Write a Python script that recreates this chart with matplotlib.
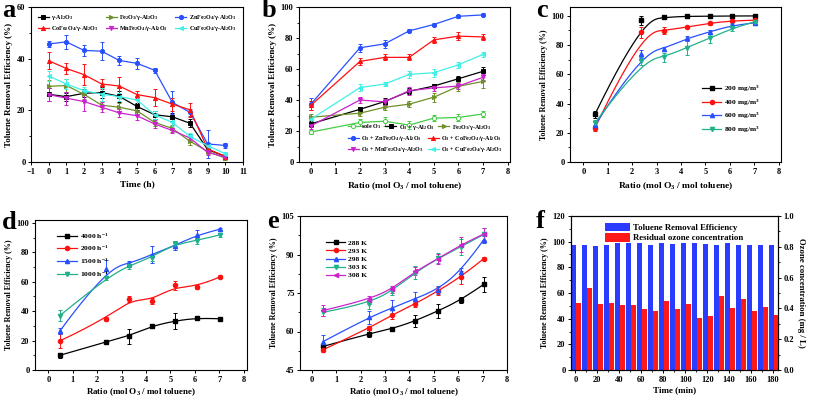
import matplotlib.pyplot as plt
import numpy as np
from matplotlib.ticker import MultipleLocator

# panel a: stability over time
time_h = [0, 1, 2, 3, 4, 5, 6, 7, 8, 9, 10]
a_gamma = [26.2, 25.3, 26.6, 26.9, 25.4, 21.5, 18.3, 17.5, 15.0, 4.8, 2.2]
a_fe2o3 = [29.3, 29.6, 26.2, 22.0, 21.2, 19.8, 15.3, 13.0, 8.0, 4.1, 1.5]
a_zn = [45.7, 46.5, 43.2, 42.9, 39.3, 38.2, 35.5, 23.1, 19.2, 7.0, 6.4]
a_co = [39.2, 36.2, 33.8, 30.2, 29.4, 26.1, 24.9, 22.4, 20.2, 5.1, 2.1]
a_mn = [26.1, 24.7, 23.4, 21.2, 19.0, 17.9, 14.7, 12.2, 9.3, 3.7, 1.9]
a_cu = [33.3, 30.2, 27.6, 26.3, 25.3, 24.0, 18.3, 15.3, 9.9, 6.3, 3.2]
a_gamma_err = [2.5, 1.5, 1.5, 2.0, 2.0, 1.5, 1.5, 1.5, 1.5, 1.0, 0.8]
a_fe2o3_err = [2.5, 2.5, 2.0, 1.5, 1.5, 1.5, 1.5, 1.5, 1.5, 1.0, 0.8]
a_zn_err = [1.2, 2.7, 2.0, 3.5, 1.8, 2.2, 1.0, 4.5, 1.5, 5.5, 1.0]
a_co_err = [3.2, 2.2, 4.0, 2.0, 3.5, 1.2, 3.3, 2.5, 2.8, 1.5, 0.8]
a_mn_err = [2.5, 2.5, 3.5, 2.0, 1.5, 1.5, 1.5, 1.0, 1.5, 1.0, 0.8]
a_cu_err = [2.0, 2.0, 1.5, 2.5, 1.5, 1.5, 1.5, 1.5, 1.5, 1.0, 0.8]

# panel b: catalysts vs ozone ratio
ratio_b = [0, 2, 3, 4, 5, 6, 7]
b_sole = [19.3, 25.5, 26.3, 23.8, 28.3, 28.7, 31.0]
b_gamma = [24.6, 34.0, 39.0, 45.6, 49.0, 53.7, 58.5]
b_fe2o3 = [28.9, 31.5, 35.3, 37.3, 41.8, 48.8, 52.0]
b_zn = [37.3, 73.7, 76.2, 84.6, 88.7, 94.0, 94.9]
b_co = [36.5, 64.9, 67.5, 67.5, 78.8, 81.2, 80.7]
b_mn = [23.3, 40.0, 38.8, 46.0, 47.8, 49.0, 54.6]
b_cu = [27.6, 48.0, 50.3, 56.5, 57.6, 62.7, 69.4]
b_sole_err = [1.5, 2.5, 3.0, 2.5, 2.0, 2.5, 2.0]
b_gamma_err = [2.0, 1.5, 2.0, 2.0, 1.5, 1.5, 2.5]
b_fe2o3_err = [2.0, 2.0, 2.0, 2.0, 3.0, 3.0, 4.0]
b_zn_err = [4.0, 2.5, 2.5, 1.0, 1.0, 1.0, 1.0]
b_co_err = [3.0, 2.0, 2.0, 2.0, 2.0, 2.5, 2.0]
b_mn_err = [2.0, 2.0, 2.0, 2.5, 2.0, 2.0, 2.0]
b_cu_err = [2.0, 2.5, 1.5, 2.0, 2.5, 2.0, 1.5]

# panels c, d, e share the ozone ratios
ratio = [0.47, 2.35, 3.29, 4.23, 5.17, 6.11, 7.05]

c_labels = ['200 mg/m$^3$', '400 mg/m$^3$', '600 mg/m$^3$', '800 mg/m$^3$']
c_vals = [[32.5, 96.8, 98.9, 99.7, 99.6, 99.9, 99.9],
          [23.2, 88.6, 89.8, 92.3, 95.0, 96.6, 97.0],
          [25.0, 73.9, 77.3, 84.5, 88.9, 93.6, 95.2],
          [26.6, 69.1, 71.6, 78.2, 84.5, 91.6, 96.0]]
c_errs = [[2.5, 3.0, 0.8, 0.5, 0.5, 0.5, 0.5],
          [2.0, 4.0, 2.5, 1.0, 1.0, 1.0, 1.0],
          [3.0, 3.0, 1.5, 1.5, 1.5, 1.0, 1.0],
          [2.0, 3.0, 3.0, 5.0, 3.0, 2.0, 1.0]]

d_labels = ['4000 h$^{-1}$', '2000 h$^{-1}$', '1500 h$^{-1}$', '1000 h$^{-1}$']
d_vals = [[10.0, 19.1, 23.0, 29.8, 33.4, 35.5, 34.8],
          [19.8, 34.5, 48.5, 47.0, 57.5, 56.5, 63.5],
          [26.5, 69.0, 72.0, 78.5, 84.5, 92.0, 95.8],
          [37.0, 62.5, 71.0, 76.5, 86.0, 88.0, 92.0]]
d_errs = [[1.5, 1.0, 5.0, 1.0, 5.5, 1.0, 1.0],
          [5.0, 1.5, 2.0, 2.0, 3.0, 1.5, 1.0],
          [2.0, 6.0, 2.0, 5.5, 3.0, 3.0, 1.0],
          [3.5, 1.5, 2.5, 2.5, 2.0, 2.0, 1.5]]

e_labels = ['288 K', '293 K', '298 K', '303 K', '308 K']
e_vals = [[54.2, 59.2, 61.0, 64.1, 68.0, 72.2, 78.4],
          [52.9, 61.3, 66.5, 70.7, 75.8, 81.2, 88.4],
          [56.1, 65.6, 69.1, 72.8, 76.3, 83.3, 95.8],
          [67.5, 70.9, 75.8, 82.9, 88.5, 93.0, 97.8],
          [68.2, 72.4, 76.4, 83.5, 88.2, 93.8, 98.0]]
e_errs = [[1.0, 1.5, 0.7, 2.5, 2.7, 1.2, 3.0],
          [0.8, 0.7, 1.8, 1.0, 1.5, 2.5, 0.7],
          [2.5, 2.5, 3.0, 2.5, 1.5, 1.5, 1.5],
          [1.5, 2.0, 1.5, 2.5, 2.0, 3.0, 2.5],
          [2.0, 1.5, 1.5, 1.5, 2.0, 3.0, 2.5]]

# panel f: long run
time_min = [0, 10, 20, 30, 40, 50, 60, 70, 80, 90, 100, 110, 120, 130, 140,
            150, 160, 170, 180]
f_removal = [97.7, 97.5, 97.0, 97.5, 99.0, 98.7, 98.9, 97.6, 99.3, 98.5,
             99.1, 99.3, 98.3, 97.6, 98.8, 97.4, 97.4, 97.2, 97.2]
f_ozone = [0.436, 0.531, 0.430, 0.436, 0.421, 0.419, 0.395, 0.380, 0.447,
           0.397, 0.428, 0.335, 0.348, 0.479, 0.402, 0.464, 0.384, 0.410,
           0.354]

BLACK = '#000000'
RED = '#ff1010'
BLUE = '#2850ff'
OLIVE = '#6f8f2a'
MAGENTA = '#cc22cc'
CYAN = '#40f0e8'
GREEN = '#44cc44'
TEAL = '#20b08a'

plt.rcParams.update({
    'font.family': ['Liberation Serif', 'DejaVu Serif'],
    'font.weight': 'bold',
    'font.size': 6.5,
    'mathtext.fontset': 'custom',
    'mathtext.rm': 'Liberation Serif:bold',
    'mathtext.it': 'Liberation Serif:bold',
    'mathtext.bf': 'Liberation Serif:bold',
    'axes.linewidth': 0.8,
    'axes.labelweight': 'bold',
    'axes.labelpad': 2,
    'xtick.major.size': 2.5,
    'ytick.major.size': 2.5,
    'xtick.minor.size': 1.3,
    'ytick.minor.size': 1.3,
    'xtick.major.width': 0.7,
    'ytick.major.width': 0.7,
    'xtick.minor.width': 0.6,
    'ytick.minor.width': 0.6,
    'xtick.labelsize': 6.0,
    'ytick.labelsize': 6.0,
    'xtick.major.pad': 2.0,
    'ytick.major.pad': 1.5,
})

YLABEL = 'Toluene Removal Efficiency (%)'
RLABEL = 'Ratio (mol O$_3$ / mol toluene)'


def bspline(x, y, k=3, n=200):
    """Clamped cubic B-spline with the data as control points (Origin
    style 'B-Spline' connection)."""
    pts = np.column_stack([x, y])
    m = len(pts)
    knots = np.concatenate([np.zeros(k), np.linspace(0, 1, m - k + 1),
                            np.ones(k)])
    t = np.linspace(0, 1, n)
    basis = np.zeros((n, len(knots) - 1))
    for i in range(len(knots) - 1):
        basis[:, i] = (knots[i] <= t) & (t < knots[i + 1])
    basis[-1, m - 1] = 1.0
    for d in range(1, k + 1):
        new = np.zeros((n, len(knots) - 1 - d))
        for i in range(len(knots) - 1 - d):
            left = knots[i + d] - knots[i]
            right = knots[i + d + 1] - knots[i + 1]
            if left > 0:
                new[:, i] += (t - knots[i]) / left * basis[:, i]
            if right > 0:
                new[:, i] += (knots[i + d + 1] - t) / right * basis[:, i + 1]
        basis = new
    curve = basis @ pts
    return curve[:, 0], curve[:, 1]


def series(ax, x, y, err, color, marker, smooth=False, mfc=None):
    ax.errorbar(x, y, yerr=err, fmt='none', ecolor=color, elinewidth=0.7,
                capsize=1.4, capthick=0.7, zorder=2)
    if smooth:
        sx, sy = bspline(x, y)
        ax.plot(sx, sy, color=color, lw=0.9, zorder=3)
        ax.plot(x, y, ls='none', marker=marker, ms=3,
                color=color, mfc=mfc or color, zorder=4)
        return ax.plot([], [], color=color, lw=0.9, marker=marker, ms=3,
                       mfc=mfc or color)[0]
    line, = ax.plot(x, y, color=color, lw=0.9, marker=marker, ms=3,
                    mfc=mfc or color, mew=0.7, zorder=3)
    return line


def box(ax):
    ax.tick_params(direction='out', top=False, right=False)
    ax.tick_params(which='minor', direction='out', top=False, right=False)


def legend(ax, handles, labels, **kw):
    opts = dict(frameon=False, fontsize=5.2, handlelength=2.2,
                handletextpad=0.4, borderaxespad=0.3, labelspacing=0.35,
                columnspacing=1.0)
    opts.update(kw)
    return ax.legend(handles, labels, **opts)


fig = plt.figure(figsize=(8.13, 4.0), dpi=100)
W, H = 813.0, 400.0


def axes_px(left, top, right, bottom):
    return fig.add_axes([left / W, 1 - bottom / H, (right - left) / W,
                         (bottom - top) / H])


# ---- a ----
ax = axes_px(31, 7, 243, 162)
h_g = series(ax, time_h, a_gamma, a_gamma_err, BLACK, 's')
h_f = series(ax, time_h, a_fe2o3, a_fe2o3_err, OLIVE, '>')
h_z = series(ax, time_h, a_zn, a_zn_err, BLUE, 'o')
h_c = series(ax, time_h, a_co, a_co_err, RED, '^')
h_m = series(ax, time_h, a_mn, a_mn_err, MAGENTA, 'v')
h_u = series(ax, time_h, a_cu, a_cu_err, CYAN, '<')
ax.set_xlim(-1, 11)
ax.set_ylim(0, 60)
ax.xaxis.set_major_locator(MultipleLocator(1))
ax.yaxis.set_major_locator(MultipleLocator(20))
ax.yaxis.set_minor_locator(MultipleLocator(10))
box(ax)
ax.set_xlabel('Time (h)', fontsize=6.8, labelpad=3)
ax.set_ylabel(YLABEL, fontsize=6.5, labelpad=3)
legend(ax, [h_g, h_c, h_f, h_m, h_z, h_u],
       ['γ-Al$_2$O$_3$', 'CoFe$_2$O$_4$/γ-Al$_2$O$_3$',
        'Fe$_2$O$_3$/γ-Al$_2$O$_3$', 'MnFe$_2$O$_4$/γ-Al$_2$O$_3$',
        'ZnFe$_2$O$_4$/γ-Al$_2$O$_3$', 'CuFe$_2$O$_4$/γ-Al$_2$O$_3$'],
       ncol=3, loc='upper center', fontsize=4.4, handlelength=1.8,
       labelspacing=0.4, columnspacing=1.2, bbox_to_anchor=(0.5, 0.99))

# ---- b ----
ax = axes_px(299, 7, 510, 162)
h_s = series(ax, ratio_b, b_sole, b_sole_err, GREEN, 'o', mfc='white')
h_g = series(ax, ratio_b, b_gamma, b_gamma_err, BLACK, 's')
h_f = series(ax, ratio_b, b_fe2o3, b_fe2o3_err, OLIVE, '>')
h_z = series(ax, ratio_b, b_zn, b_zn_err, BLUE, 'o')
h_c = series(ax, ratio_b, b_co, b_co_err, RED, '^')
h_m = series(ax, ratio_b, b_mn, b_mn_err, MAGENTA, 'v')
h_u = series(ax, ratio_b, b_cu, b_cu_err, CYAN, '<')
ax.set_xlim(-0.48, 8.1)
ax.set_ylim(0, 100)
ax.xaxis.set_major_locator(MultipleLocator(1))
ax.yaxis.set_major_locator(MultipleLocator(20))
ax.yaxis.set_minor_locator(MultipleLocator(10))
box(ax)
ax.set_xlabel(RLABEL, fontsize=6.8, labelpad=3)
ax.set_ylabel(YLABEL, fontsize=6.5, labelpad=3)
leg1 = legend(ax, [h_s, h_g, h_f],
              ['sole O$_3$', 'O$_3$ + γ-Al$_2$O$_3$',
               'Fe$_2$O$_3$/γ-Al$_2$O$_3$'],
              ncol=3, loc='upper left', bbox_to_anchor=(0.22, 0.27),
              fontsize=4.4, handlelength=1.8, columnspacing=0.6,
              borderaxespad=0)
ax.add_artist(leg1)
legend(ax, [h_z, h_m, h_c, h_u],
       ['O$_3$ + ZnFe$_2$O$_4$/γ-Al$_2$O$_3$',
        'O$_3$ + MnFe$_2$O$_4$/γ-Al$_2$O$_3$',
        'O$_3$ + CoFe$_2$O$_4$/γ-Al$_2$O$_3$',
        'O$_3$ + CuFe$_2$O$_4$/γ-Al$_2$O$_3$'],
       ncol=2, loc='upper left', bbox_to_anchor=(0.22, 0.195),
       fontsize=4.4, handlelength=1.8, columnspacing=0.6, labelspacing=0.35,
       borderaxespad=0)

# ---- c ----
ax = axes_px(570, 7, 781, 162)
c_style = [(BLACK, 's'), (RED, 'o'), (BLUE, '^'), (TEAL, 'v')]
handles = []
for vals, errs, (col, mk) in zip(c_vals, c_errs, c_style):
    handles.append(series(ax, ratio, vals, errs, col, mk, smooth=True))
ax.set_xlim(-0.55, 8.1)
ax.set_ylim(0, 106)
ax.xaxis.set_major_locator(MultipleLocator(1))
ax.yaxis.set_major_locator(MultipleLocator(20))
ax.yaxis.set_minor_locator(MultipleLocator(10))
box(ax)
ax.set_xlabel(RLABEL, fontsize=6.8, labelpad=3)
ax.set_ylabel(YLABEL, fontsize=5.8, labelpad=3)
legend(ax, handles, c_labels, loc='center left', bbox_to_anchor=(0.6, 0.34),
       fontsize=5.4, handlelength=2.6, labelspacing=0.45)

# ---- d ----
ax = axes_px(35, 220, 247, 370)
d_style = [(BLACK, 's'), (RED, 'o'), (BLUE, '^'), (TEAL, 'v')]
handles = []
for vals, errs, (col, mk) in zip(d_vals, d_errs, d_style):
    handles.append(series(ax, ratio, vals, errs, col, mk, smooth=True))
ax.set_xlim(-0.55, 8.14)
ax.set_ylim(0, 102)
ax.xaxis.set_major_locator(MultipleLocator(1))
ax.yaxis.set_major_locator(MultipleLocator(20))
ax.yaxis.set_minor_locator(MultipleLocator(10))
box(ax)
ax.set_xlabel(RLABEL, fontsize=6.5, labelpad=1.5)
ax.set_ylabel(YLABEL, fontsize=5.8, labelpad=3)
legend(ax, handles, d_labels, loc='upper left', bbox_to_anchor=(0.08, 0.96),
       fontsize=5.4, handlelength=2.6, labelspacing=0.45)

# ---- e ----
ax = axes_px(300, 216, 507, 370)
e_style = [(BLACK, 's'), (RED, 'o'), (BLUE, '^'), (TEAL, 'v'), (MAGENTA, '<')]
handles = []
for vals, errs, (col, mk) in zip(e_vals, e_errs, e_style):
    handles.append(series(ax, ratio, vals, errs, col, mk, smooth=True))
ax.set_xlim(-0.48, 8.0)
ax.set_ylim(45, 105)
ax.xaxis.set_major_locator(MultipleLocator(1))
ax.yaxis.set_major_locator(MultipleLocator(15))
ax.yaxis.set_minor_locator(MultipleLocator(7.5))
box(ax)
ax.set_xlabel(RLABEL, fontsize=6.5, labelpad=1.5)
ax.set_ylabel(YLABEL, fontsize=5.8, labelpad=3)
legend(ax, handles, e_labels, loc='upper left', bbox_to_anchor=(0.1, 0.88),
       fontsize=5.4, handlelength=2.6, labelspacing=0.25)

# ---- f ----
ax = axes_px(571, 216, 778, 370)
tm = np.array(time_min)
b1 = ax.bar(tm - 1.5, f_removal, width=4.5, color='#2a3cff', zorder=2)
ax2 = ax.twinx()
b2 = ax2.bar(tm + 3.0, f_ozone, width=4.5, color='#ff1a1a', zorder=2)
ax.set_xlim(-4, 184.5)
ax.set_ylim(0, 120)
ax2.set_ylim(0, 1.0)
ax.xaxis.set_major_locator(MultipleLocator(20))
ax.xaxis.set_minor_locator(MultipleLocator(10))
ax.yaxis.set_major_locator(MultipleLocator(20))
ax.yaxis.set_minor_locator(MultipleLocator(10))
ax2.yaxis.set_major_locator(MultipleLocator(0.2))
ax2.yaxis.set_minor_locator(MultipleLocator(0.1))
ax.tick_params(direction='out', top=False, right=False)
ax.tick_params(which='minor', direction='out', top=False, right=False)
ax2.tick_params(direction='out')
ax2.tick_params(which='minor', direction='out')
ax.set_xlabel('Time (min)', fontsize=6.5, labelpad=1.5)
ax.set_ylabel(YLABEL, fontsize=5.8, labelpad=3)
ax2.set_ylabel('Ozone concentration (mg / L)', fontsize=6.3, rotation=270,
               labelpad=8)
ax2.legend([b1, b2], ['Toluene Removal Efficiency',
                      'Residual ozone concentration'],
           loc='upper center', bbox_to_anchor=(0.5, 0.99), frameon=False,
           fontsize=6.3, handlelength=2.8, handleheight=1.1,
           labelspacing=0.15, handletextpad=0.4, borderaxespad=0.2)

# panel letters
for letter, x, y in [('a', 2, 17), ('b', 262, 17), ('c', 536, 17),
                     ('d', 2, 229), ('e', 267, 228), ('f', 536, 228)]:
    fig.text(x / W, 1 - y / H, letter, fontsize=19, fontweight='bold',
             family='Liberation Serif', va='baseline', ha='left')

fig.savefig('out.png', dpi=100)
